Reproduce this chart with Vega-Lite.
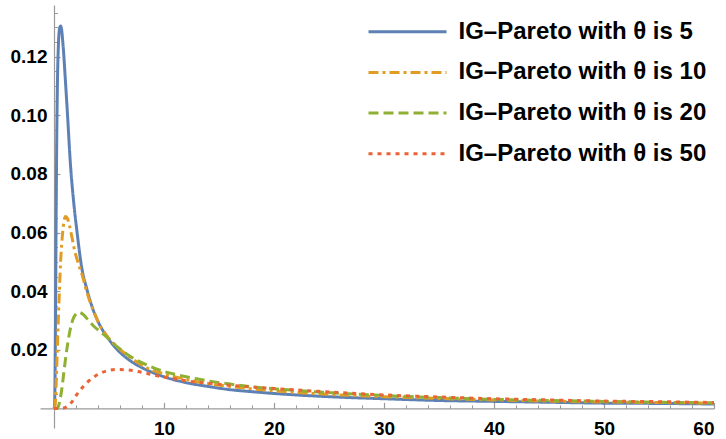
{
 "$schema": "https://vega.github.io/schema/vega-lite/v6.json",
 "width": 674,
 "height": 423,
 "autosize": "none",
 "padding": {"left": 40, "top": 5, "right": 12, "bottom": 11},
 "background": "white",
 "config": {
  "view": {"stroke": null},
  "font": "Liberation Sans",
  "legend": {
   "orient": "none", "legendX": 346.5, "legendY": 5.7, "padding": 0,
   "labelFont": "Liberation Sans", "labelFontSize": 24, "labelFontWeight": "bold", "labelColor": "#000",
   "symbolType": "M-2,0H2", "symbolSize": 1521, "symbolStrokeWidth": 3, "rowPadding": 7.7,
   "labelOffset": 30, "labelLimit": 500
  }
 },
 "datasets": {
  "curves": [
   {"s":"IG–Pareto with θ is 5","x":0,"y":0},{"s":"IG–Pareto with θ is 5","x":0.05,"y":0.001},{"s":"IG–Pareto with θ is 5","x":0.1,"y":0.012},{"s":"IG–Pareto with θ is 5","x":0.15,"y":0.038},{"s":"IG–Pareto with θ is 5","x":0.2,"y":0.068},{"s":"IG–Pareto with θ is 5","x":0.25,"y":0.092},{"s":"IG–Pareto with θ is 5","x":0.3,"y":0.108},{"s":"IG–Pareto with θ is 5","x":0.4,"y":0.124},{"s":"IG–Pareto with θ is 5","x":0.5,"y":0.1295},{"s":"IG–Pareto with θ is 5","x":0.6,"y":0.1305},{"s":"IG–Pareto with θ is 5","x":0.7,"y":0.129},{"s":"IG–Pareto with θ is 5","x":0.8,"y":0.125},{"s":"IG–Pareto with θ is 5","x":0.9,"y":0.12},{"s":"IG–Pareto with θ is 5","x":1.0,"y":0.114},{"s":"IG–Pareto with θ is 5","x":1.2,"y":0.102},{"s":"IG–Pareto with θ is 5","x":1.5,"y":0.083},{"s":"IG–Pareto with θ is 5","x":1.8,"y":0.07},{"s":"IG–Pareto with θ is 5","x":2.1,"y":0.06},{"s":"IG–Pareto with θ is 5","x":2.5,"y":0.0485},{"s":"IG–Pareto with θ is 5","x":3,"y":0.0405},{"s":"IG–Pareto with θ is 5","x":3.5,"y":0.0343},{"s":"IG–Pareto with θ is 5","x":4,"y":0.0297},{"s":"IG–Pareto with θ is 5","x":5,"y":0.0235},{"s":"IG–Pareto with θ is 5","x":6,"y":0.0191},{"s":"IG–Pareto with θ is 5","x":7,"y":0.0161},{"s":"IG–Pareto with θ is 5","x":8,"y":0.0139},{"s":"IG–Pareto with θ is 5","x":9,"y":0.0122},{"s":"IG–Pareto with θ is 5","x":10,"y":0.0108},{"s":"IG–Pareto with θ is 5","x":12,"y":0.0088},{"s":"IG–Pareto with θ is 5","x":14,"y":0.0075},{"s":"IG–Pareto with θ is 5","x":16,"y":0.0064},{"s":"IG–Pareto with θ is 5","x":18,"y":0.0057},{"s":"IG–Pareto with θ is 5","x":20,"y":0.0051},{"s":"IG–Pareto with θ is 5","x":25,"y":0.004},{"s":"IG–Pareto with θ is 5","x":30,"y":0.0033},{"s":"IG–Pareto with θ is 5","x":35,"y":0.0027},{"s":"IG–Pareto with θ is 5","x":40,"y":0.0024},{"s":"IG–Pareto with θ is 5","x":45,"y":0.0021},{"s":"IG–Pareto with θ is 5","x":50,"y":0.0018},{"s":"IG–Pareto with θ is 5","x":55,"y":0.0017},{"s":"IG–Pareto with θ is 5","x":60,"y":0.0015},

   {"s":"IG–Pareto with θ is 10","x":0,"y":0},{"s":"IG–Pareto with θ is 10","x":0.1,"y":0.001},{"s":"IG–Pareto with θ is 10","x":0.15,"y":0.004},{"s":"IG–Pareto with θ is 10","x":0.2,"y":0.009},{"s":"IG–Pareto with θ is 10","x":0.3,"y":0.02},{"s":"IG–Pareto with θ is 10","x":0.4,"y":0.031},{"s":"IG–Pareto with θ is 10","x":0.5,"y":0.041},{"s":"IG–Pareto with θ is 10","x":0.6,"y":0.05},{"s":"IG–Pareto with θ is 10","x":0.7,"y":0.056},{"s":"IG–Pareto with θ is 10","x":0.8,"y":0.0605},{"s":"IG–Pareto with θ is 10","x":0.9,"y":0.0637},{"s":"IG–Pareto with θ is 10","x":1.05,"y":0.0655},{"s":"IG–Pareto with θ is 10","x":1.2,"y":0.065},{"s":"IG–Pareto with θ is 10","x":1.4,"y":0.0625},{"s":"IG–Pareto with θ is 10","x":1.6,"y":0.059},{"s":"IG–Pareto with θ is 10","x":1.9,"y":0.0535},{"s":"IG–Pareto with θ is 10","x":2.2,"y":0.0496},{"s":"IG–Pareto with θ is 10","x":2.6,"y":0.045},{"s":"IG–Pareto with θ is 10","x":3,"y":0.0395},{"s":"IG–Pareto with θ is 10","x":3.5,"y":0.0342},{"s":"IG–Pareto with θ is 10","x":4,"y":0.0296},{"s":"IG–Pareto with θ is 10","x":4.8,"y":0.0248},{"s":"IG–Pareto with θ is 10","x":5.7,"y":0.0212},{"s":"IG–Pareto with θ is 10","x":7,"y":0.0172},{"s":"IG–Pareto with θ is 10","x":8.7,"y":0.0134},{"s":"IG–Pareto with θ is 10","x":10,"y":0.0118},{"s":"IG–Pareto with θ is 10","x":11.3,"y":0.0105},{"s":"IG–Pareto with θ is 10","x":12,"y":0.0099},{"s":"IG–Pareto with θ is 10","x":14,"y":0.0085},{"s":"IG–Pareto with θ is 10","x":16,"y":0.0075},{"s":"IG–Pareto with θ is 10","x":18,"y":0.0067},{"s":"IG–Pareto with θ is 10","x":20,"y":0.006},{"s":"IG–Pareto with θ is 10","x":25,"y":0.0048},{"s":"IG–Pareto with θ is 10","x":30,"y":0.004},{"s":"IG–Pareto with θ is 10","x":35,"y":0.0034},{"s":"IG–Pareto with θ is 10","x":40,"y":0.0029},{"s":"IG–Pareto with θ is 10","x":45,"y":0.0025},{"s":"IG–Pareto with θ is 10","x":50,"y":0.0022},{"s":"IG–Pareto with θ is 10","x":55,"y":0.002},{"s":"IG–Pareto with θ is 10","x":60,"y":0.0018},

   {"s":"IG–Pareto with θ is 20","x":0,"y":0},{"s":"IG–Pareto with θ is 20","x":0.3,"y":0.0001},{"s":"IG–Pareto with θ is 20","x":0.4,"y":0.0007},{"s":"IG–Pareto with θ is 20","x":0.55,"y":0.003},{"s":"IG–Pareto with θ is 20","x":0.7,"y":0.0064},{"s":"IG–Pareto with θ is 20","x":0.85,"y":0.0108},{"s":"IG–Pareto with θ is 20","x":1.0,"y":0.0155},{"s":"IG–Pareto with θ is 20","x":1.2,"y":0.021},{"s":"IG–Pareto with θ is 20","x":1.45,"y":0.0265},{"s":"IG–Pareto with θ is 20","x":1.7,"y":0.0302},{"s":"IG–Pareto with θ is 20","x":2.0,"y":0.0322},{"s":"IG–Pareto with θ is 20","x":2.3,"y":0.0328},{"s":"IG–Pareto with θ is 20","x":2.7,"y":0.0319},{"s":"IG–Pareto with θ is 20","x":3.1,"y":0.0302},{"s":"IG–Pareto with θ is 20","x":3.6,"y":0.0281},{"s":"IG–Pareto with θ is 20","x":4.2,"y":0.0262},{"s":"IG–Pareto with θ is 20","x":4.9,"y":0.024},{"s":"IG–Pareto with θ is 20","x":5.7,"y":0.0212},{"s":"IG–Pareto with θ is 20","x":6.6,"y":0.0186},{"s":"IG–Pareto with θ is 20","x":7.6,"y":0.0163},{"s":"IG–Pareto with θ is 20","x":8.7,"y":0.0144},{"s":"IG–Pareto with θ is 20","x":10,"y":0.0126},{"s":"IG–Pareto with θ is 20","x":11.3,"y":0.0114},{"s":"IG–Pareto with θ is 20","x":12,"y":0.0108},{"s":"IG–Pareto with θ is 20","x":14,"y":0.0094},{"s":"IG–Pareto with θ is 20","x":16,"y":0.0083},{"s":"IG–Pareto with θ is 20","x":18,"y":0.0074},{"s":"IG–Pareto with θ is 20","x":20,"y":0.0067},{"s":"IG–Pareto with θ is 20","x":25,"y":0.0054},{"s":"IG–Pareto with θ is 20","x":30,"y":0.0044},{"s":"IG–Pareto with θ is 20","x":35,"y":0.0037},{"s":"IG–Pareto with θ is 20","x":40,"y":0.0031},{"s":"IG–Pareto with θ is 20","x":45,"y":0.0027},{"s":"IG–Pareto with θ is 20","x":50,"y":0.0024},{"s":"IG–Pareto with θ is 20","x":55,"y":0.0021},{"s":"IG–Pareto with θ is 20","x":60,"y":0.0019},

   {"s":"IG–Pareto with θ is 50","x":0,"y":0},{"s":"IG–Pareto with θ is 50","x":0.5,"y":0},{"s":"IG–Pareto with θ is 50","x":0.8,"y":0.0001},{"s":"IG–Pareto with θ is 50","x":1.0,"y":0.0003},{"s":"IG–Pareto with θ is 50","x":1.3,"y":0.0009},{"s":"IG–Pareto with θ is 50","x":1.7,"y":0.0026},{"s":"IG–Pareto with θ is 50","x":2.06,"y":0.0047},{"s":"IG–Pareto with θ is 50","x":2.5,"y":0.0068},{"s":"IG–Pareto with θ is 50","x":3.0,"y":0.0088},{"s":"IG–Pareto with θ is 50","x":3.5,"y":0.0104},{"s":"IG–Pareto with θ is 50","x":4.2,"y":0.012},{"s":"IG–Pareto with θ is 50","x":4.9,"y":0.0129},{"s":"IG–Pareto with θ is 50","x":5.7,"y":0.0133},{"s":"IG–Pareto with θ is 50","x":6.5,"y":0.0132},{"s":"IG–Pareto with θ is 50","x":7.5,"y":0.0127},{"s":"IG–Pareto with θ is 50","x":8.4,"y":0.012},{"s":"IG–Pareto with θ is 50","x":9.3,"y":0.0112},{"s":"IG–Pareto with θ is 50","x":10.3,"y":0.0105},{"s":"IG–Pareto with θ is 50","x":11.3,"y":0.0099},{"s":"IG–Pareto with θ is 50","x":12,"y":0.0094},{"s":"IG–Pareto with θ is 50","x":14,"y":0.0086},{"s":"IG–Pareto with θ is 50","x":16,"y":0.0079},{"s":"IG–Pareto with θ is 50","x":18,"y":0.0073},{"s":"IG–Pareto with θ is 50","x":20,"y":0.0068},{"s":"IG–Pareto with θ is 50","x":25,"y":0.0056},{"s":"IG–Pareto with θ is 50","x":30,"y":0.0046},{"s":"IG–Pareto with θ is 50","x":35,"y":0.0039},{"s":"IG–Pareto with θ is 50","x":40,"y":0.0033},{"s":"IG–Pareto with θ is 50","x":45,"y":0.0029},{"s":"IG–Pareto with θ is 50","x":50,"y":0.0025},{"s":"IG–Pareto with θ is 50","x":55,"y":0.0023},{"s":"IG–Pareto with θ is 50","x":60,"y":0.002}
  ]
 },
 "data": {"name": "curves"},
 "layer": [
  {
   "mark": {"type": "line", "interpolate": "monotone", "strokeWidth": 3, "strokeCap": "butt", "clip": true},
   "encoding": {
    "x": {"field": "x", "type": "quantitative",
     "scale": {"domain": [-1.2727, 60], "nice": false, "zero": false},
     "axis": {"orient": "bottom", "offset": -19.6, "values": [10, 20, 30, 40, 50, 60], "format": "d", "title": null, "grid": false,
      "domainColor": "#9a9a9a", "domainWidth": 1.2, "tickColor": "#9a9a9a", "tickWidth": 1.2, "tickSize": -6,
      "labelPadding": 17, "labelFont": "Liberation Sans", "labelFontSize": 19, "labelFontWeight": "bold", "labelColor": "#000", "labelBaseline": "top"}},
    "y": {"field": "y", "type": "quantitative",
     "scale": {"domain": [-0.00668, 0.13764], "nice": false, "zero": false},
     "axis": {"orient": "left", "offset": -14, "values": [0.02, 0.04, 0.06, 0.08, 0.1, 0.12], "format": ".2f", "title": null, "grid": false,
      "domainColor": "#9a9a9a", "domainWidth": 1.2, "tickColor": "#9a9a9a", "tickWidth": 1.2, "tickSize": -6,
      "labelPadding": 13, "labelFont": "Liberation Sans", "labelFontSize": 19, "labelFontWeight": "bold", "labelColor": "#000"}},
    "color": {"field": "s", "type": "nominal", "title": null,
     "scale": {"domain": ["IG–Pareto with θ is 5", "IG–Pareto with θ is 10", "IG–Pareto with θ is 20", "IG–Pareto with θ is 50"],
      "range": ["#5E81B5", "#E19C24", "#8FB032", "#EB6235"]}},
    "strokeDash": {"field": "s", "type": "nominal", "title": null,
     "scale": {"domain": ["IG–Pareto with θ is 5", "IG–Pareto with θ is 10", "IG–Pareto with θ is 20", "IG–Pareto with θ is 50"],
      "range": [[1, 0], [10, 4, 3, 4], [10, 5], [4, 5]]}}
   }
  },
  {
   "mark": {"type": "point", "opacity": 0},
   "encoding": {
    "x": {"field": "x", "type": "quantitative",
     "axis": {"orient": "bottom", "offset": -19.6, "values": [2, 4, 6, 8, 12, 14, 16, 18, 22, 24, 26, 28, 32, 34, 36, 38, 42, 44, 46, 48, 52, 54, 56, 58], "labels": false, "domain": false, "title": null, "grid": false,
      "tickColor": "#9a9a9a", "tickWidth": 1, "tickSize": -3.5}},
    "y": {"field": "y", "type": "quantitative",
     "axis": {"orient": "left", "offset": -14, "values": [0.005, 0.01, 0.015, 0.025, 0.03, 0.035, 0.045, 0.05, 0.055, 0.065, 0.07, 0.075, 0.085, 0.09, 0.095, 0.105, 0.11, 0.115, 0.125, 0.13, 0.135], "labels": false, "domain": false, "title": null, "grid": false,
      "tickColor": "#9a9a9a", "tickWidth": 1, "tickSize": -3.5}}
   }
  }
 ],
 "resolve": {"axis": {"x": "independent", "y": "independent"}}
}
